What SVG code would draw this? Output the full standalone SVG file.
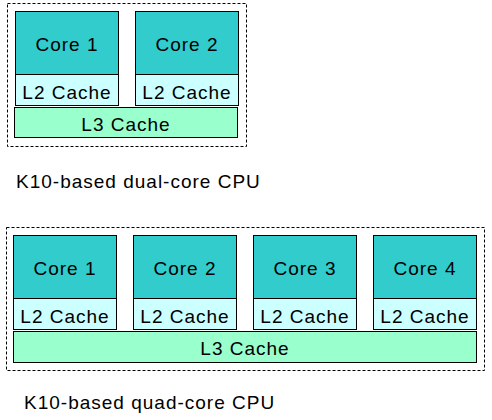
<svg xmlns="http://www.w3.org/2000/svg" width="492" height="420" viewBox="0 0 492 420">
<style>
.frame{fill:none;stroke:#000;stroke-width:1;stroke-dasharray:3 2}
.core{fill:#33CCCC;stroke:#000;stroke-width:1}
.l2{fill:#CCFFFF;stroke:#000;stroke-width:1}
.l3{fill:#99FFCC;stroke:#000;stroke-width:1}
text{font-family:"Liberation Sans",Arial,sans-serif;font-size:19px;letter-spacing:1px;fill:#000}
.c{text-anchor:middle}
</style>
<rect width="492" height="420" fill="#fff"/>
<g id="dual">
<rect class="frame" x="7.5" y="3.5" width="239" height="143"/>
<g id="d-core1"><rect class="core" x="15.5" y="11.5" width="103" height="63"/><text class="c" x="67" y="51">Core 1</text></g>
<g id="d-l2-1"><rect class="l2" x="15.5" y="74.5" width="103" height="31"/><text class="c" x="67" y="99">L2 Cache</text></g>
<g id="d-core2"><rect class="core" x="135.5" y="11.5" width="103" height="63"/><text class="c" x="187" y="51">Core 2</text></g>
<g id="d-l2-2"><rect class="l2" x="135.5" y="74.5" width="103" height="31"/><text class="c" x="187" y="99">L2 Cache</text></g>
<g id="d-l3"><rect class="l3" x="14.5" y="107.5" width="223" height="30"/><text class="c" x="126" y="131">L3 Cache</text></g>
<text id="d-label" x="16" y="188">K10-based dual-core CPU</text>
</g>
<g id="quad">
<rect class="frame" x="6.5" y="227.5" width="478" height="143"/>
<g id="q-core1"><rect class="core" x="13.5" y="235.5" width="103" height="63"/><text class="c" x="65" y="275">Core 1</text></g>
<g id="q-l2-1"><rect class="l2" x="13.5" y="298.5" width="103" height="31"/><text class="c" x="65" y="323">L2 Cache</text></g>
<g id="q-core2"><rect class="core" x="133.5" y="235.5" width="103" height="63"/><text class="c" x="185" y="275">Core 2</text></g>
<g id="q-l2-2"><rect class="l2" x="133.5" y="298.5" width="103" height="31"/><text class="c" x="185" y="323">L2 Cache</text></g>
<g id="q-core3"><rect class="core" x="253.5" y="235.5" width="103" height="63"/><text class="c" x="305" y="275">Core 3</text></g>
<g id="q-l2-3"><rect class="l2" x="253.5" y="298.5" width="103" height="31"/><text class="c" x="305" y="323">L2 Cache</text></g>
<g id="q-core4"><rect class="core" x="373.5" y="235.5" width="103" height="63"/><text class="c" x="425" y="275">Core 4</text></g>
<g id="q-l2-4"><rect class="l2" x="373.5" y="298.5" width="103" height="31"/><text class="c" x="425" y="323">L2 Cache</text></g>
<g id="q-l3"><rect class="l3" x="13.5" y="331.5" width="463" height="31"/><text class="c" x="245" y="355">L3 Cache</text></g>
<text id="q-label" x="24" y="409">K10-based quad-core CPU</text>
</g>
<g id="connectors"/>
</svg>
